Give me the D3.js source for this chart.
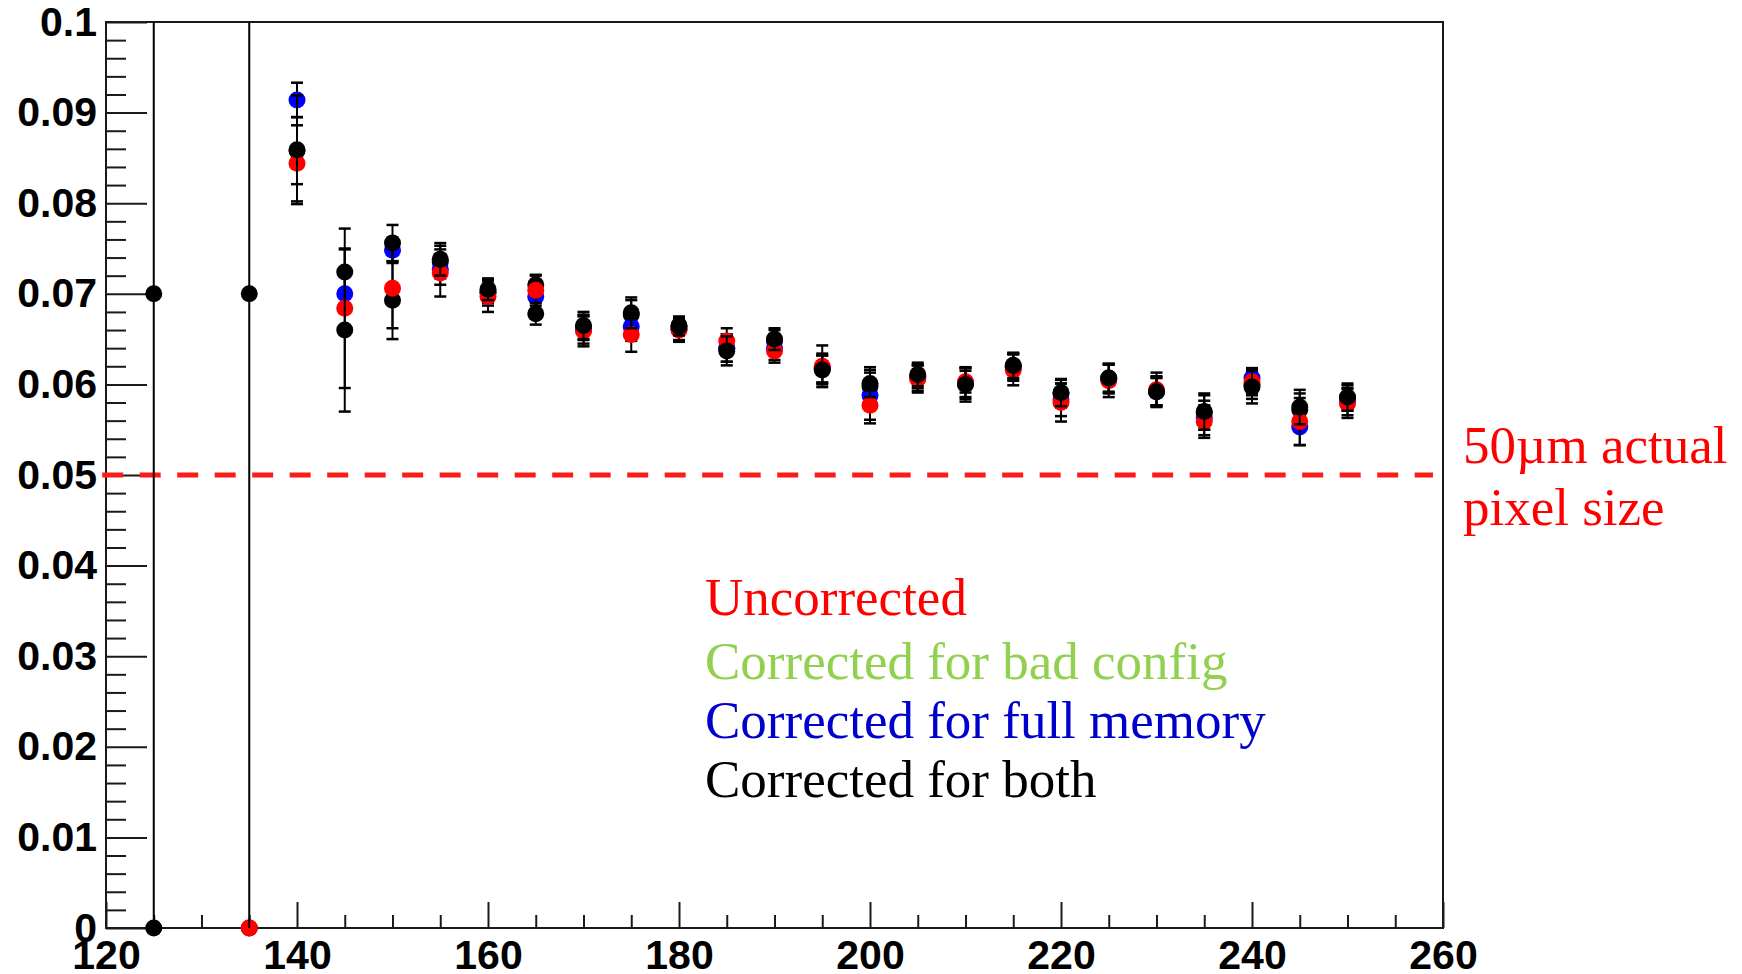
<!DOCTYPE html>
<html>
<head>
<meta charset="utf-8">
<script src="https://cdn.jsdelivr.net/npm/d3@7"></script>
<style>
  html, body { margin: 0; padding: 0; background: #ffffff; }
  svg { display: block; }
</style>
</head>
<body>
<svg id="chart" width="1742" height="974"></svg>
<script>
// Threshold settings (x) and measured resolution (y) for each correction stage.
const xVals = [125, 135, 140, 145, 150, 155, 160, 165, 170, 175, 180, 185, 190,
               195, 200, 205, 210, 215, 220, 225, 230, 235, 240, 245, 250];

const redVals = [null, 0, 0.0844, 0.0684, 0.0706, 0.0723, 0.0697, 0.0704, 0.0659, 0.0655, 0.0660, 0.0648, 0.0637,
                 0.0620, 0.0577, 0.0606, 0.0603, 0.0616, 0.0580, 0.0604, 0.0594, 0.0559, 0.0603, 0.0559, 0.0579];
const redErr  = [null, 0, 0.0042, 0.0088, 0.0044, 0.0026, 0.0017, 0.0017, 0.0017, 0.0019, 0.0013, 0.0014, 0.0013,
                 0.0023, 0.0016, 0.0015, 0.0012, 0.0017, 0.0021, 0.0018, 0.0019, 0.0018, 0.0015, 0.0026, 0.0016];

const blueVals = [null, null, 0.0914, 0.0700, 0.0748, 0.0727, 0.0701, 0.0697, 0.0660, 0.0664, 0.0661, 0.0640, 0.0640,
                  0.0618, 0.0588, 0.0607, 0.0602, 0.0619, 0.0583, 0.0606, 0.0593, 0.0563, 0.0607, 0.0553, 0.0581];
const blueErr  = [null, null, 0.0019, 0.0020, 0.0014, 0.0017, 0.0014, 0.0014, 0.0015, 0.0016, 0.0012, 0.0015, 0.0013,
                  0.0016, 0.0031, 0.0014, 0.0016, 0.0015, 0.0018, 0.0016, 0.0016, 0.0019, 0.0010, 0.0020, 0.0015];

const configVals = [0, 0, 0.0858, 0.0724, 0.0693, 0.0735, 0.0702, 0.0710, 0.0663, 0.0677, 0.0665, 0.0640, 0.0648,
                    0.0617, 0.0598, 0.0609, 0.0601, 0.0620, 0.0590, 0.0607, 0.0592, 0.0569, 0.0600, 0.0572, 0.0585];
const configErr  = [0, 0, 0.0037, 0.0025, 0.0043, 0.0018, 0.0012, 0.0010, 0.0014, 0.0016, 0.0010, 0.0015, 0.0012,
                    0.0015, 0.0015, 0.0013, 0.0017, 0.0014, 0.0015, 0.0015, 0.0015, 0.0019, 0.0016, 0.0018, 0.0014];

const bothVals = [0.07, 0.07, 0.0859, 0.0660, 0.0756, 0.0738, 0.0705, 0.0678, 0.0665, 0.0679, 0.0664, 0.0637, 0.0650,
                  0.0616, 0.0601, 0.0611, 0.0600, 0.0621, 0.0591, 0.0607, 0.0592, 0.0570, 0.0597, 0.0575, 0.0586];
const bothErr  = [0.1, 0.1, 0.0060, 0.0090, 0.0020, 0.0018, 0.0012, 0.0012, 0.0015, 0.0017, 0.0010, 0.0016, 0.0012,
                  0.0016, 0.0015, 0.0013, 0.0019, 0.0014, 0.0015, 0.0016, 0.0016, 0.0020, 0.0018, 0.0019, 0.0015];

// Axis ticks
const xMajorTicks = [120, 140, 160, 180, 200, 220, 240, 260];
const yMajorTicks = [0, 0.01, 0.02, 0.03, 0.04, 0.05, 0.06, 0.07, 0.08, 0.09, 0.1];

// Legend text and the nominal pixel-size reference
const legendLabels = ["Uncorrected", "Corrected for bad config", "Corrected for full memory", "Corrected for both"];
const legendColors = ["#ff0000", "#92d050", "#0000cc", "#000000"];
const pixelSize = 0.05;
const pixelSizeNote = ["50\u00b5m actual", "pixel size"];

// Series in drawing order (first drawn ends up underneath)
const series = [
  { vals: configVals, errs: configErr, color: "#000000" },
  { vals: blueVals,   errs: blueErr,   color: "#0000ff" },
  { vals: redVals,    errs: redErr,    color: "#ff0000" },
  { vals: bothVals,   errs: bothErr,   color: "#000000" }
];

const frame = { left: 106, right: 1443, top: 22, bottom: 928 };
const svg = d3.select("#chart");

const x = d3.scaleLinear().domain([120, 260]).range([frame.left, frame.right]);
const y = d3.scaleLinear().domain([0, 0.1]).range([frame.bottom, frame.top]);

const axisFont = "'Liberation Sans', Arial, Helvetica, sans-serif";
const serifFont = "'Liberation Serif', 'Times New Roman', serif";

svg.append("defs").append("clipPath").attr("id", "plot-clip")
  .append("rect")
  .attr("x", frame.left).attr("y", frame.top)
  .attr("width", frame.right - frame.left).attr("height", frame.bottom - frame.top);

// Frame
svg.append("rect")
  .attr("x", frame.left).attr("y", frame.top)
  .attr("width", frame.right - frame.left).attr("height", frame.bottom - frame.top)
  .attr("fill", "none").attr("stroke", "#1a1a1a").attr("stroke-width", 2);

// Minor tick values
const xMinorTicks = d3.range(120, 260.001, 5).filter(v => !xMajorTicks.includes(v));
const yMinorTicks = d3.range(0, 50).map(i => i * 0.002).filter((v, i) => i % 5 !== 0);

function styleAxis(g) {
  g.select(".domain").remove();
  g.selectAll(".tick line").attr("stroke", "#1a1a1a").attr("stroke-width", 2);
  g.selectAll(".tick text")
    .attr("fill", "#000")
    .style("font-family", axisFont)
    .style("font-weight", "bold")
    .style("font-size", "41px");
}

// Y axis: inward ticks, labels on the left
svg.append("g")
  .attr("transform", `translate(${frame.left},0)`)
  .call(d3.axisLeft(y).tickValues(yMinorTicks).tickSizeInner(-20).tickSizeOuter(0).tickFormat(""))
  .call(styleAxis);
svg.append("g")
  .attr("transform", `translate(${frame.left},0)`)
  .call(d3.axisLeft(y).tickValues(yMajorTicks).tickSizeInner(-41).tickSizeOuter(0).tickPadding(9)
        .tickFormat(v => v === 0 ? "0" : String(+v.toFixed(2))))
  .call(styleAxis);

// X axis: inward ticks, labels below
svg.append("g")
  .attr("transform", `translate(0,${frame.bottom})`)
  .call(d3.axisBottom(x).tickValues(xMinorTicks).tickSizeInner(-13).tickSizeOuter(0).tickFormat(""))
  .call(styleAxis);
svg.append("g")
  .attr("transform", `translate(0,${frame.bottom})`)
  .call(d3.axisBottom(x).tickValues(xMajorTicks).tickSizeInner(-26).tickSizeOuter(0).tickPadding(12)
        .tickFormat(d3.format("d")))
  .call(styleAxis);

// Dashed reference line at the nominal pixel size
svg.append("line")
  .attr("x1", x(119.6)).attr("x2", x(258.95))
  .attr("y1", y(pixelSize)).attr("y2", y(pixelSize))
  .attr("stroke", "#ff1a1a").attr("stroke-width", 5)
  .attr("stroke-dasharray", "21 16.5");

// Data: error bars (clipped to the frame) then markers, series by series
const capHalf = 6;
series.forEach(s => {
  const pts = xVals.map((xv, i) => ({ x: xv, v: s.vals[i], e: s.errs[i] }))
                   .filter(p => p.v !== null);
  const eg = svg.append("g").attr("clip-path", "url(#plot-clip)")
    .attr("stroke", "#000").attr("fill", "none");
  pts.filter(p => p.e > 0).forEach(p => {
    const cx = x(p.x), yHi = y(p.v + p.e), yLo = y(p.v - p.e);
    eg.append("line").attr("x1", cx).attr("x2", cx).attr("y1", yHi).attr("y2", yLo).attr("stroke-width", 2);
    eg.append("line").attr("x1", cx - capHalf).attr("x2", cx + capHalf).attr("y1", yHi).attr("y2", yHi).attr("stroke-width", 2.5);
    eg.append("line").attr("x1", cx - capHalf).attr("x2", cx + capHalf).attr("y1", yLo).attr("y2", yLo).attr("stroke-width", 2.5);
  });
  svg.append("g").selectAll("circle").data(pts).join("circle")
    .attr("cx", p => x(p.x)).attr("cy", p => y(p.v))
    .attr("r", 8.5).attr("fill", s.color);
});

// Legend text
const legendBaselines = [615, 679, 738, 797];
svg.append("g").selectAll("text").data(legendLabels).join("text")
  .attr("x", 705).attr("y", (d, i) => legendBaselines[i])
  .attr("fill", (d, i) => legendColors[i])
  .style("font-family", serifFont).style("font-size", "53px")
  .text(d => d);

// Note beside the reference line
svg.append("g").selectAll("text").data(pixelSizeNote).join("text")
  .attr("x", 1463).attr("y", (d, i) => 463 + i * 62)
  .attr("fill", "#ff0000")
  .style("font-family", serifFont).style("font-size", "53px")
  .text(d => d);
</script>
</body>
</html>
